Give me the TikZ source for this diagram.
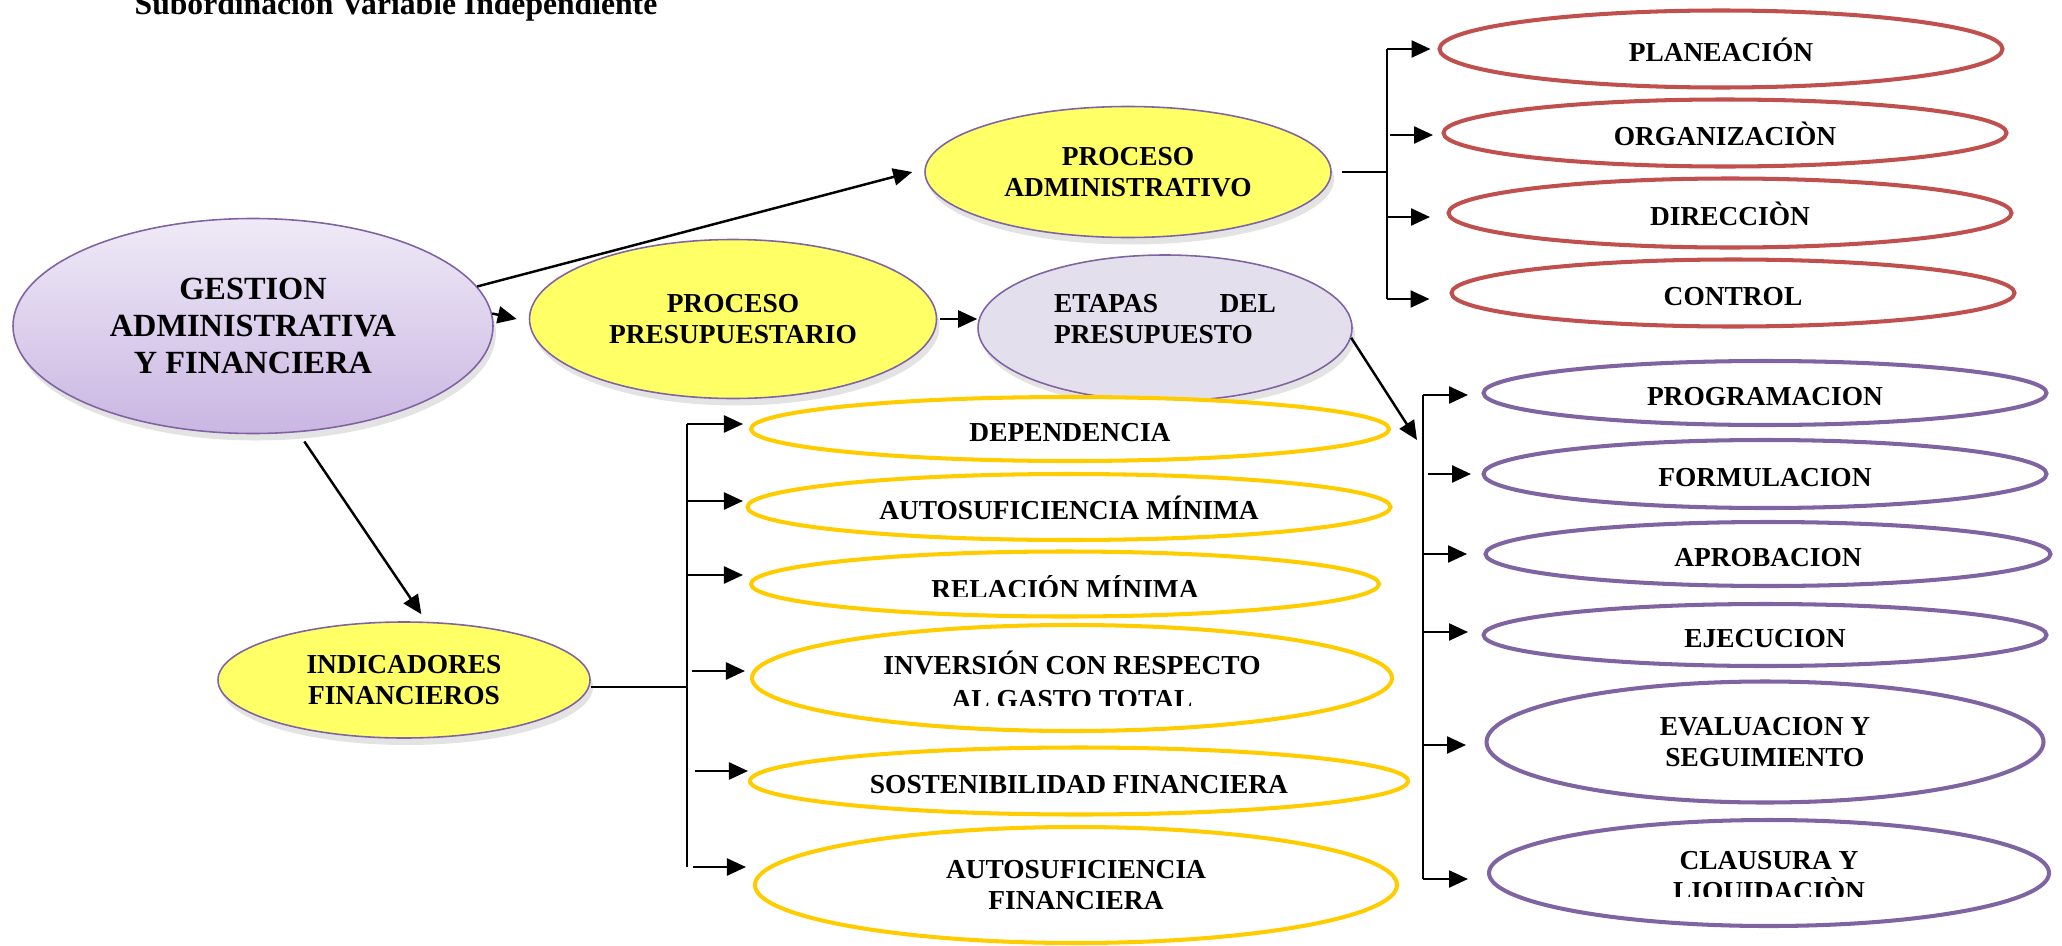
\documentclass[tikz,border=0pt]{standalone}
\usepackage{fontspec}
\setmainfont{Liberation Serif}
\usepackage{trimclip}
\usetikzlibrary{shapes.geometric,arrows.meta,shadows}

\definecolor{redline}{HTML}{C0504D}
\definecolor{purpline}{HTML}{8064A2}
\definecolor{goldline}{HTML}{FFCC00}
\definecolor{yelfill}{HTML}{FFFF66}
\definecolor{lavfill}{HTML}{E4DFEC}
\definecolor{gradtop}{HTML}{EFEAF7}
\definecolor{gradbot}{HTML}{CAB6E2}

\newcommand\lbl{\bfseries\fontsize{7.8}{8.8}\selectfont}
\newcommand\biglbl{\bfseries\fontsize{9.2}{10.5}\selectfont}

\begin{document}
\begin{tikzpicture}[x=0.1mm,y=-0.1mm,
  conn/.style={line width=0.7pt, black},
  arr/.style={conn, -{Triangle[length=1.9mm,width=1.7mm]}},
  bigell/.style={ellipse, draw=purpline, line width=0.45pt, inner sep=0pt,
    align=center, font=\lbl,
    drop shadow={shadow xshift=0.3mm, shadow yshift=-0.7mm, opacity=0.22}},
  listell/.style={ellipse, line width=1.15pt, inner sep=0pt, align=center,
    font=\lbl, fill=white},
  oneline/.style={text height=2.5mm, text depth=0mm},
  redell/.style={listell, oneline, draw=redline, minimum width=56.3mm},
  purpell/.style={listell, draw=purpline},
  goldell/.style={listell, draw=goldline}]
\useasboundingbox (0,0) rectangle (2062,946);

% heading, partly cut by the page edge
\node[anchor=base west, inner sep=0pt, font=\bfseries\fontsize{9}{11}\selectfont]
  (title) at (134,15) {Subordinación Variable Independiente};

% main concepts
\node[bigell, top color=gradtop, bottom color=gradbot, font=\biglbl,
  minimum width=48mm, minimum height=21.5mm] (gest) at (253,326)
  {GESTION\\ADMINISTRATIVA\\Y FINANCIERA};
\node[bigell, fill=yelfill, minimum width=40.6mm, minimum height=13.1mm]
  (padm) at (1128,172) {PROCESO\\ADMINISTRATIVO};
\node[bigell, fill=yelfill, minimum width=40.7mm, minimum height=15.9mm]
  (ppres) at (733,319) {PROCESO\\PRESUPUESTARIO};
\node[bigell, fill=lavfill, minimum width=37.4mm, minimum height=14.6mm]
  (etapas) at (1165,328)
  {\raisebox{0.9mm}[\height][\depth]{\parbox{22.2mm}{ETAPAS\hfill DEL\\PRESUPUESTO}}};
\node[bigell, fill=yelfill, minimum width=37.2mm, minimum height=11.6mm]
  (indic) at (404,680) {INDICADORES\\FINANCIEROS};

% stages of the administrative process
\node[redell, minimum height=7.7mm] (plan) at (1721,49) {PLANEACIÓN};
\node[redell, minimum height=6.7mm] (org) at (1725,133) {ORGANIZACIÒN};
\node[redell, minimum height=6.9mm] (dir) at (1730,213) {DIRECCIÒN};
\node[redell, minimum height=6.7mm] (ctrl) at (1733,293) {CONTROL};

% budget stages
\node[purpell, oneline, minimum width=56.3mm, minimum height=6.4mm] (prog) at (1765,393) {PROGRAMACION};
\node[purpell, oneline, minimum width=56.3mm, minimum height=6.8mm] (form) at (1765,474) {FORMULACION};
\node[purpell, oneline, minimum width=56.5mm, minimum height=6.4mm] (aprob) at (1768,554) {APROBACION};
\node[purpell, oneline, minimum width=56.3mm, minimum height=6.2mm] (ejec) at (1765,635) {EJECUCION};
\node[purpell, minimum width=55.7mm, minimum height=12.1mm] (eval) at (1765,742) {EVALUACION Y\\SEGUIMIENTO};
\node[purpell, minimum width=56.0mm, minimum height=10.6mm] (claus) at (1769,873)
  {\raisebox{-0.4mm}[\height][\depth]{\begin{tabular}{@{}c@{}}CLAUSURA Y\\[-0.35mm]\clipbox{0pt 2.4pt 0pt 0pt}{LIQUIDACIÒN}\end{tabular}}};

% financial indicators
\node[goldell, oneline, minimum width=63.8mm, minimum height=6.4mm] (dep) at (1070,429) {DEPENDENCIA};
\node[goldell, oneline, minimum width=64.3mm, minimum height=6.6mm] (amin) at (1069,507) {AUTOSUFICIENCIA MÍNIMA};
\node[goldell, oneline, minimum width=62.8mm, minimum height=6.5mm] (rel) at (1065,584)
  {\clipbox{0pt 0.7pt 0pt 0pt}{RELACIÓN MÍNIMA}};
\node[goldell, minimum width=64.0mm, minimum height=10.6mm] (inv) at (1072,678)
  {INVERSIÓN CON RESPECTO\\\clipbox{0pt 0.9pt 0pt 0pt}{AL GASTO TOTAL}};
\node[goldell, oneline, minimum width=65.8mm, minimum height=6.7mm] (sost) at (1079,781) {SOSTENIBILIDAD FINANCIERA};
\node[goldell, minimum width=64.2mm, minimum height=11.6mm] (afin) at (1076,885) {AUTOSUFICIENCIA\\FINANCIERA};

% links out of the central concept
\draw[arr] (gest.10) -- ([xshift=-1.2mm]padm.west);
\draw[arr] (gest.3) -- ([xshift=-1.2mm]ppres.west);
\draw[arr, shorten <=1.1mm, shorten >=0.9mm] (gest.-67) -- (indic.69);
\draw[arr, shorten <=0.3mm] (ppres.east) -- (ppres.east -| etapas.west);

% bracket: administrative process
\coordinate (rb) at (1387,0);
\draw[conn] ([xshift=1mm]padm.east) -- (padm.east -| rb);
\draw[conn] (plan.west -| rb) -- ([yshift=-0.6mm]ctrl.west -| rb);
\draw[arr] (plan.west -| rb) -- ([xshift=-0.7mm]plan.west);
\draw[arr, shorten <=0.3mm] ([yshift=-0.2mm]org.west -| rb) -- ([yshift=-0.2mm,xshift=-0.85mm]org.west);
\draw[arr] ([yshift=-0.4mm]dir.west -| rb) -- ([yshift=-0.4mm,xshift=-1.65mm]dir.west);
\draw[arr] ([yshift=-0.6mm]ctrl.west -| rb) -- ([yshift=-0.6mm,xshift=-2mm]ctrl.west);

% bracket: budget stages
\coordinate (pb) at (1423,0);
\coordinate (pin) at (1417,440);
\draw[arr] (etapas.-3) -- (pin);
\draw[conn] ([yshift=-0.2mm]prog.west -| pb) -- ([yshift=-0.6mm]claus.west -| pb);
\draw[arr] ([yshift=-0.2mm]prog.west -| pb) -- ([yshift=-0.2mm,xshift=-1.35mm]prog.west);
\draw[arr, shorten <=0.5mm] (form.west -| pb) -- ([xshift=-1.05mm]form.west);
\draw[arr] (aprob.west -| pb) -- ([xshift=-1.65mm]aprob.west);
\draw[arr] ([yshift=0.3mm]ejec.west -| pb) -- ([yshift=0.3mm,xshift=-1.35mm]ejec.west);
\draw[arr] ([yshift=-0.3mm]eval.west -| pb) -- ([yshift=-0.3mm,xshift=-1.85mm]eval.west);
\draw[arr] ([yshift=-0.6mm]claus.west -| pb) -- ([yshift=-0.6mm,xshift=-1.9mm]claus.west);

% bracket: financial indicators
\coordinate (yb) at (687,0);
\draw[conn] ([yshift=-0.7mm]indic.east) -- ([yshift=-0.7mm]indic.east -| yb);
\draw[conn] ([yshift=0.5mm]dep.west -| yb) -- ([yshift=1.8mm]afin.west -| yb);
\draw[arr] ([yshift=0.5mm]dep.west -| yb) -- ([yshift=0.5mm,xshift=-0.6mm]dep.west);
\draw[arr] ([yshift=0.6mm]amin.west -| yb) -- ([yshift=0.6mm,xshift=-0.25mm]amin.west);
\draw[arr] ([yshift=0.9mm]rel.west -| yb) -- ([yshift=0.9mm,xshift=-0.6mm]rel.west);
\draw[arr, shorten <=0.5mm] ([yshift=0.7mm]inv.west -| yb) -- ([yshift=0.7mm,xshift=-0.5mm]inv.west);
\draw[arr, shorten <=0.8mm] ([yshift=1.0mm]sost.west -| yb) -- ([yshift=1.0mm]sost.west);
\draw[arr, shorten <=0.6mm] ([yshift=1.8mm]afin.west -| yb) -- ([yshift=1.8mm,xshift=-0.7mm]afin.west);
\end{tikzpicture}
\end{document}
